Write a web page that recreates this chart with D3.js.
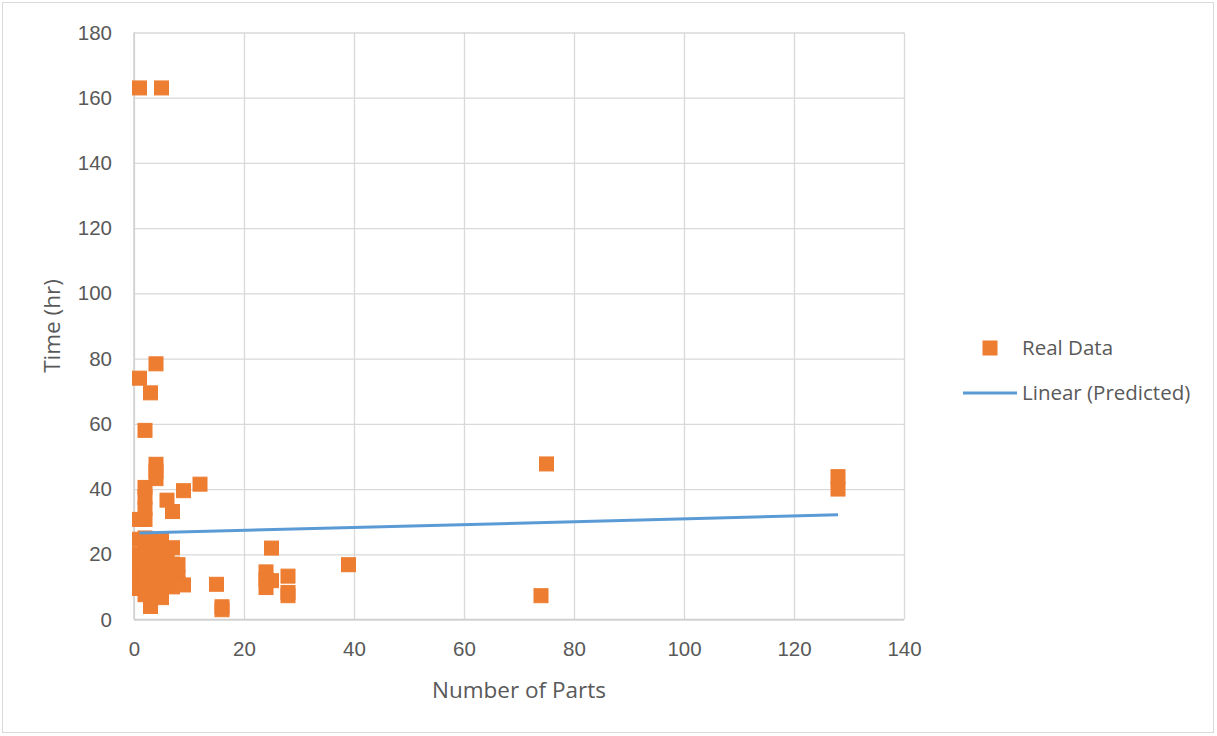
<!DOCTYPE html>
<html>
<head>
<meta charset="utf-8">
<script src="https://cdn.jsdelivr.net/npm/d3@7/dist/d3.min.js"></script>
<style>
  html, body { margin: 0; padding: 0; background: #fff; }
  svg { display: block; font-family: "Open Sans", "Liberation Sans", sans-serif; }
</style>
</head>
<body>
<svg id="chart" width="1217" height="736"></svg>
<script>
// Observed jobs: number of parts vs. build time (hours)
const realX = [
  1, 1, 1, 1, 1, 1, 1, 1,
  2, 2, 2, 2, 2, 2, 2, 2, 2, 2, 2,
  3, 3, 3, 3, 3, 3, 3,
  4, 4, 4, 4, 4, 4, 4, 4,
  5, 5, 5, 5, 5, 5,
  6, 6, 6, 6, 6,
  7, 7, 7, 7, 7,
  8, 8, 8,
  9, 9,
  12, 15, 16, 16,
  24, 24, 24, 25, 25,
  28, 28, 28, 39, 74, 75, 128, 128
];
const realY = [
  24.6, 20, 16, 13, 9.5, 30.7, 74, 163,
  40.5, 37.5, 34, 30.7, 25, 22, 18, 14, 11, 7.6, 58,
  24.6, 21, 17, 12, 8, 4, 69.5,
  24.6, 19, 15, 10, 47.6, 45.5, 43.2, 78.4,
  24.6, 20, 13, 9, 6.7, 163,
  21, 18, 14, 11, 36.6,
  22, 17, 14, 10, 33.1,
  16.8, 13, 11,
  10.6, 39.5,
  41.5, 10.8, 3.9, 3.0,
  14.6, 12.2, 9.8, 21.9, 11.9,
  13.3, 8.3, 7.3, 16.8, 7.3, 47.7, 43.8, 40
];

// Linear trendline of the predicted series, over the observed x range
const trendX = [1, 128];
const trendY = [26.5, 32.1];

const xTicks = [0, 20, 40, 60, 80, 100, 120, 140];
const yTicks = [0, 20, 40, 60, 80, 100, 120, 140, 160, 180];

const seriesNames = ["Real Data", "Linear (Predicted)"];
const axisTitles = { x: "Number of Parts", y: "Time (hr)" };

const COLORS = { real: "#ED7D31", trend: "#5B9BD5", grid: "#d9d9d9", text: "#595959" };

const svg = d3.select("#chart");
const plot = { left: 134, right: 904, top: 32.5, bottom: 619.5 };

// chart frame
svg.append("rect")
  .attr("x", 2.5).attr("y", 2.5).attr("width", 1211).attr("height", 730)
  .attr("fill", "#fff").attr("stroke", COLORS.grid).attr("stroke-width", 1);

const x = d3.scaleLinear().domain([0, 140]).range([plot.left, plot.right]);
const y = d3.scaleLinear().domain([0, 180]).range([plot.bottom, plot.top]);

// horizontal gridlines + y labels
const yAxis = svg.append("g")
  .attr("transform", `translate(${plot.left},0)`)
  .call(d3.axisLeft(y).tickValues(yTicks).tickSize(-(plot.right - plot.left)).tickPadding(22));
yAxis.select(".domain").remove();
yAxis.selectAll(".tick line").attr("stroke", COLORS.grid).attr("stroke-width", 1.3);
yAxis.selectAll(".tick text")
  .attr("fill", COLORS.text).style("font-size", "20.5px");

// vertical gridlines + x labels
const xAxis = svg.append("g")
  .attr("transform", `translate(0,${plot.bottom})`)
  .call(d3.axisBottom(x).tickValues(xTicks).tickSize(-(plot.bottom - plot.top)).tickPadding(22));
xAxis.select(".domain").remove();
xAxis.selectAll(".tick line").attr("stroke", COLORS.grid).attr("stroke-width", 1.3);
xAxis.selectAll(".tick text")
  .attr("fill", COLORS.text).style("font-size", "20.5px");

// axis lines
svg.append("line")
  .attr("x1", plot.left).attr("x2", plot.left).attr("y1", plot.top).attr("y2", plot.bottom)
  .attr("stroke", "#d0d0d0").attr("stroke-width", 1.5);
svg.append("line")
  .attr("x1", plot.left).attr("x2", plot.right).attr("y1", plot.bottom).attr("y2", plot.bottom)
  .attr("stroke", "#d0d0d0").attr("stroke-width", 1.5);

// axis titles
svg.append("text")
  .attr("x", (plot.left + plot.right) / 2).attr("y", 698)
  .attr("text-anchor", "middle").attr("fill", COLORS.text)
  .style("font-size", "22.5px").text(axisTitles.x);
svg.append("text")
  .attr("transform", `translate(60,${(plot.top + plot.bottom) / 2}) rotate(-90)`)
  .attr("text-anchor", "middle").attr("fill", COLORS.text)
  .style("font-size", "22.5px").text(axisTitles.y);

// markers
const M = 14;
svg.append("g").selectAll("rect")
  .data(realX.map((d, i) => [d, realY[i]]))
  .join("rect")
  .attr("x", d => x(d[0]) - M / 2)
  .attr("y", d => y(d[1]) - M / 2)
  .attr("width", M).attr("height", M)
  .attr("fill", COLORS.real).attr("stroke", COLORS.real).attr("stroke-width", 1);

// trendline
svg.append("path")
  .datum(trendX.map((d, i) => [d, trendY[i]]))
  .attr("d", d3.line().x(d => x(d[0])).y(d => y(d[1])))
  .attr("fill", "none").attr("stroke", COLORS.trend).attr("stroke-width", 3);

// legend
const lg = svg.append("g");
lg.append("rect")
  .attr("x", 990 - M / 2).attr("y", 348 - M / 2).attr("width", M).attr("height", M)
  .attr("fill", COLORS.real).attr("stroke", COLORS.real);
lg.append("text").attr("x", 1022).attr("y", 348).attr("dy", "0.35em")
  .attr("fill", COLORS.text).style("font-size", "20.5px").text(seriesNames[0]);
lg.append("line")
  .attr("x1", 963).attr("x2", 1017).attr("y1", 393).attr("y2", 393)
  .attr("stroke", COLORS.trend).attr("stroke-width", 3);
lg.append("text").attr("x", 1022).attr("y", 393).attr("dy", "0.35em")
  .attr("fill", COLORS.text).style("font-size", "20.5px").text(seriesNames[1]);
</script>
</body>
</html>
